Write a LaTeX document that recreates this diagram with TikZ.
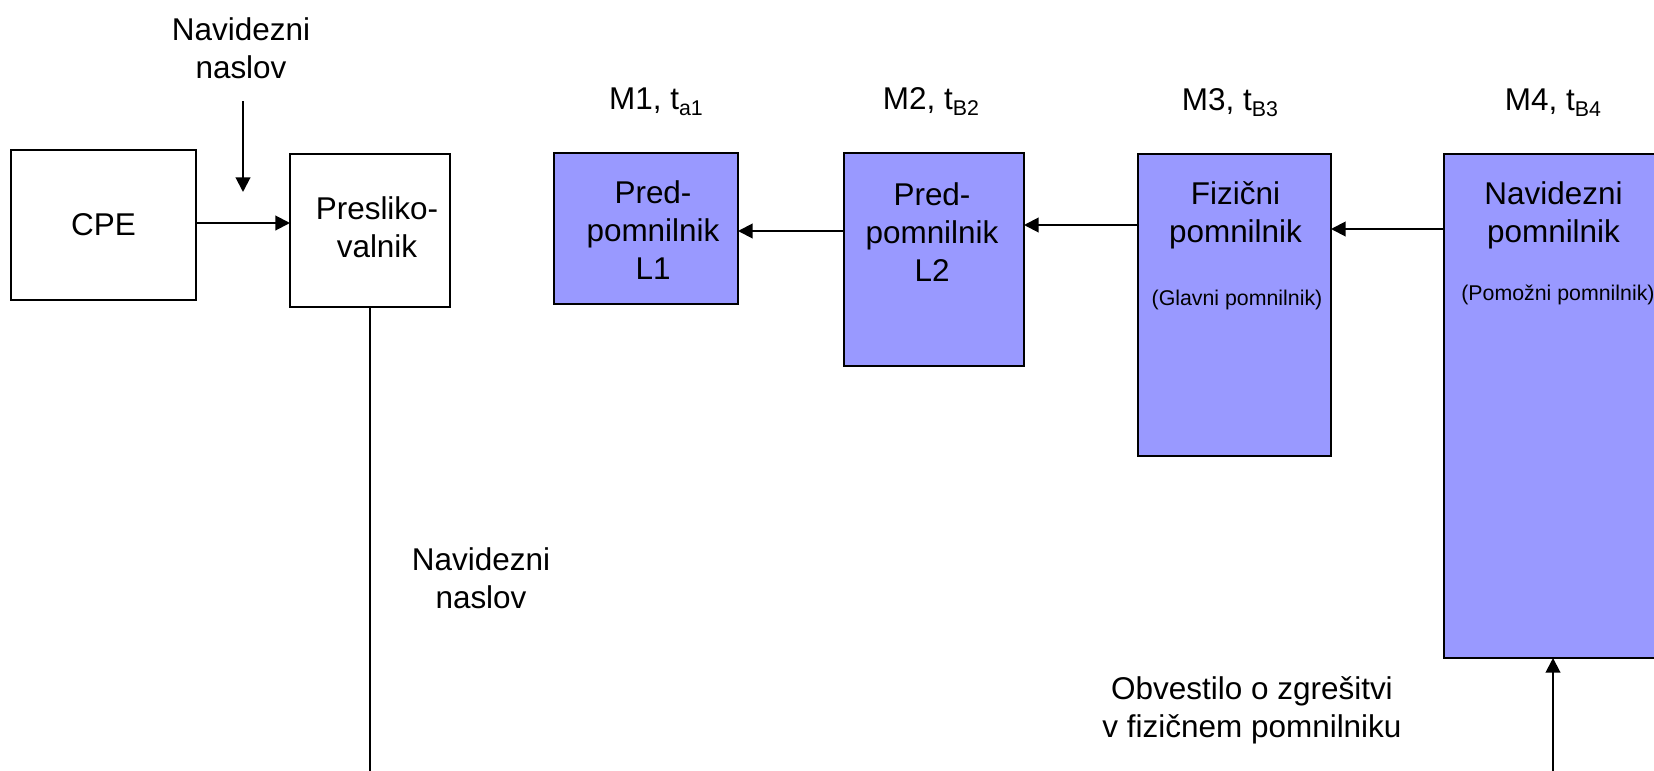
\documentclass[tikz,border=0pt]{standalone}
\usepackage{fontspec}
\setmainfont{Liberation Sans}
\usetikzlibrary{arrows.meta}
\definecolor{boxblue}{RGB}{153,153,255}
\newcommand\subt[1]{\raisebox{-5pt}{\fontsize{16}{16}\selectfont #1}}
\begin{document}
\begin{tikzpicture}[x=0.75pt,y=-0.75pt,
  box/.style={draw=black, line width=1.5pt, inner sep=0pt, outer sep=0pt},
  wbox/.style={box, fill=white},
  bbox/.style={box, fill=boxblue},
  txt/.style={font=\fontsize{23.6}{28.5}\selectfont, align=center, inner sep=0pt},
  small/.style={font=\fontsize{16}{19}\selectfont, align=center, inner sep=0pt},
  conn/.style={line width=1.5pt},
  arr/.style={conn, -{Triangle[length=11pt,width=11pt]}}]
\clip (0,0) rectangle (1654,771);
\useasboundingbox (0,0) rectangle (1654,771);
% boxes
\node[wbox, minimum width=138.75pt, minimum height=112.5pt, txt] (cpe) at (103.5,225) {CPE};
\node[wbox, minimum width=120pt, minimum height=114.75pt] (pres) at (370,230.5) {};
\node[bbox, minimum width=138pt, minimum height=113.25pt] (lone) at (646,228.5) {};
\node[bbox, minimum width=135pt, minimum height=159.75pt] (ltwo) at (934,259.5) {};
\node[bbox, minimum width=144.75pt, minimum height=226.5pt] (mthree) at (1234.5,305) {};
\node[bbox, minimum width=163.5pt, minimum height=378pt] (mfour) at (1553,406) {};
% box texts
\node[txt] (pres-t) at (377,227.5) {Presliko-\\valnik};
\node[txt] (lone-t) at (653,230) {Pred-\\pomnilnik\\L1};
\node[txt] (ltwo-t) at (932,232.5) {Pred-\\pomnilnik\\L2};
\node[txt] (mthree-t) at (1235.5,215.5) {Fizični\\pomnilnik};
\node[small] (mthree-s) at (1237,300) {(Glavni pomnilnik)};
\node[txt] (mfour-t) at (1553.5,215.5) {Navidezni\\pomnilnik};
\node[small] (mfour-s) at (1558,295) {(Pomožni pomnilnik)};
% labels
\node[txt] (vtop) at (241,48) {Navidezni\\naslov};
\node[txt, anchor=base] (mone-l) at (656,109) {M1, t\subt{a1}};
\node[txt, anchor=base] (mtwo-l) at (931,109) {M2, t\subt{B2}};
\node[txt, anchor=base] (mthree-l) at (1230,110) {M3, t\subt{B3}};
\node[txt, anchor=base] (mfour-l) at (1553,110) {M4, t\subt{B4}};
\node[txt] (vmid) at (481,578) {Navidezni\\naslov};
\node[txt] (miss) at (1252,710) {Obvestilo o zgrešitvi\\v fizičnem pomnilniku};
% connectors
\coordinate (dtop) at (243,101);
\coordinate (dtip) at (243,192);
\draw[arr] (dtop) -- (dtip);
\draw[arr] (cpe.east |- 0,223) -- (pres.west |- 0,223);
\coordinate (pbot) at (371,780);
\draw[conn] (pres.south) -- (pres.south |- pbot);
\draw[arr] (ltwo.west |- 0,231) -- (lone.east |- 0,231);
\draw[arr] (mthree.west |- 0,225) -- (ltwo.east |- 0,225);
\draw[arr] (mfour.west |- 0,229) -- (mthree.east |- 0,229);
\coordinate (ubot) at (1553,780);
\draw[arr] (ubot) -- (mfour.south);
\end{tikzpicture}
\end{document}
